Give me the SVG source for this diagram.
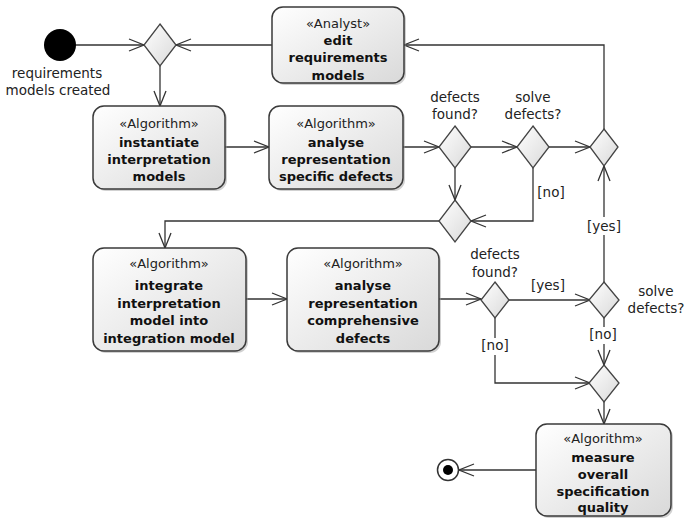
<svg xmlns="http://www.w3.org/2000/svg" width="685" height="518" viewBox="0 0 685 518">
<defs>
<linearGradient id="g" x1="0" y1="0" x2="1" y2="1">
<stop offset="0" stop-color="#ffffff"/>
<stop offset="1" stop-color="#d9d9d9"/>
</linearGradient>
<marker id="arr" markerUnits="userSpaceOnUse" markerWidth="20" markerHeight="16" viewBox="-1 -8 18 16" refX="15" refY="0" orient="auto">
<path d="M0,-6 L15,0 L0,6" fill="none" stroke="#333" stroke-width="1.3"/>
</marker>
</defs>
<style>
.box{fill:url(#g);stroke:#3a3a3a;stroke-width:1.5}
.sh{fill:#999;opacity:0.45}
.dia{fill:url(#g);stroke:#444;stroke-width:1.3}
.e{fill:none;stroke:#333;stroke-width:1.3;marker-end:url(#arr)}
text{font-family:"DejaVu Sans",Verdana,sans-serif;fill:#222;text-anchor:middle}
.st{font-size:13px}
.nm{font-size:13px;font-weight:bold;fill:#111}
.lb{font-size:13.5px}
.gd{font-size:13.5px}
</style>

<g id="connectors">
<path class="e" d="M76,45 H144"/>
<path class="e" d="M272,45 H176"/>
<path class="e" d="M160,66 V106"/>
<path class="e" d="M225,147 H269"/>
<path class="e" d="M403,147 H439"/>
<path class="e" d="M471,147 H517"/>
<path class="e" d="M549,147 H590"/>
<path class="e" d="M455,168 V200"/>
<path class="e" d="M533,168 V221 H471"/>
<path class="e" d="M604,129 V45 H404"/>
<path class="e" d="M439,221 H165 V248"/>
<path class="e" d="M246,299 H287"/>
<path class="e" d="M439,299 H481"/>
<path class="e" d="M509,300 H590"/>
<path class="e" d="M604,282 V166"/>
<path class="e" d="M604,318 V365"/>
<path class="e" d="M495,318 V383 H590"/>
<path class="e" d="M604,402 V424"/>
<path class="e" d="M536,470 H459"/>
<rect x="586" y="217" width="36" height="18" fill="#fff"/>
<text class="gd" x="604" y="231">[yes]</text>
<text class="gd" x="551" y="197">[no]</text>
<text class="gd" x="548" y="290">[yes]</text>
<rect x="482" y="338" width="27" height="17" fill="#fff"/>
<text class="gd" x="495" y="350">[no]</text>
<rect x="590" y="327" width="27" height="17" fill="#fff"/>
<text class="gd" x="603" y="339">[no]</text>
</g>

<g id="start">
<circle cx="60" cy="45" r="16" fill="#000"/>
<text class="lb" x="57" y="78">requirements</text>
<text class="lb" x="58" y="95">models created</text>
</g>

<g id="merge1"><path class="dia" d="M160,24 L176,45 L160,66 L144,45 Z"/></g>

<g id="edit">
<rect class="sh" x="274" y="9" width="132" height="76" rx="11"/>
<rect class="box" x="272" y="7" width="132" height="76" rx="11"/>
<text class="st" x="338" y="28">«Analyst»</text>
<text class="nm" x="338" y="45">edit</text>
<text class="nm" x="338" y="62">requirements</text>
<text class="nm" x="338" y="80">models</text>
</g>

<g id="instantiate">
<rect class="sh" x="95" y="108" width="132" height="83" rx="11"/>
<rect class="box" x="93" y="106" width="132" height="83" rx="11"/>
<text class="st" x="159" y="128">«Algorithm»</text>
<text class="nm" x="159" y="147">instantiate</text>
<text class="nm" x="159" y="164">interpretation</text>
<text class="nm" x="159" y="181">models</text>
</g>

<g id="analyseSpecific">
<rect class="sh" x="271" y="108" width="134" height="83" rx="11"/>
<rect class="box" x="269" y="106" width="134" height="83" rx="11"/>
<text class="st" x="336" y="128">«Algorithm»</text>
<text class="nm" x="336" y="147">analyse</text>
<text class="nm" x="336" y="164">representation</text>
<text class="nm" x="336" y="181">specific defects</text>
</g>

<g id="decision1">
<path class="dia" d="M455,126 L471,147 L455,168 L439,147 Z"/>
<text class="lb" x="455" y="102">defects</text>
<text class="lb" x="455" y="119">found?</text>
</g>

<g id="decision2">
<path class="dia" d="M533,126 L549,147 L533,168 L517,147 Z"/>
<text class="lb" x="533" y="102">solve</text>
<text class="lb" x="533" y="119">defects?</text>
</g>

<g id="merge2"><path class="dia" d="M604,129 L618,147 L604,166 L590,147 Z"/></g>

<g id="merge3"><path class="dia" d="M455,200 L471,221 L455,242 L439,221 Z"/></g>

<g id="integrate">
<rect class="sh" x="95" y="250" width="153" height="103" rx="11"/>
<rect class="box" x="93" y="248" width="153" height="103" rx="11"/>
<text class="st" x="169" y="268">«Algorithm»</text>
<text class="nm" x="169" y="290">integrate</text>
<text class="nm" x="169" y="308">interpretation</text>
<text class="nm" x="169" y="325">model into</text>
<text class="nm" x="169" y="343">integration model</text>
</g>

<g id="analyseComprehensive">
<rect class="sh" x="289" y="250" width="152" height="103" rx="11"/>
<rect class="box" x="287" y="248" width="152" height="103" rx="11"/>
<text class="st" x="363" y="268">«Algorithm»</text>
<text class="nm" x="363" y="290">analyse</text>
<text class="nm" x="363" y="308">representation</text>
<text class="nm" x="363" y="325">comprehensive</text>
<text class="nm" x="363" y="343">defects</text>
</g>

<g id="decision3">
<path class="dia" d="M495,282 L509,300 L495,318 L481,300 Z"/>
<text class="lb" x="495" y="259">defects</text>
<text class="lb" x="495" y="277">found?</text>
</g>

<g id="decision4">
<path class="dia" d="M604,282 L619,300 L604,318 L589,300 Z"/>
<text class="lb" x="656" y="296">solve</text>
<text class="lb" x="656" y="313">defects?</text>
</g>

<g id="merge4"><path class="dia" d="M604,365 L619,383 L604,402 L589,383 Z"/></g>

<g id="measure">
<rect class="sh" x="538" y="426" width="135" height="92" rx="11"/>
<rect class="box" x="536" y="424" width="135" height="92" rx="11"/>
<text class="st" x="603" y="443">«Algorithm»</text>
<text class="nm" x="603" y="462">measure</text>
<text class="nm" x="603" y="479">overall</text>
<text class="nm" x="603" y="496">specification</text>
<text class="nm" x="603" y="512">quality</text>
</g>

<g id="end">
<circle cx="448" cy="470" r="10.5" fill="#fff" stroke="#333" stroke-width="1.5"/>
<circle cx="448" cy="470" r="5" fill="#000"/>
</g>
</svg>
